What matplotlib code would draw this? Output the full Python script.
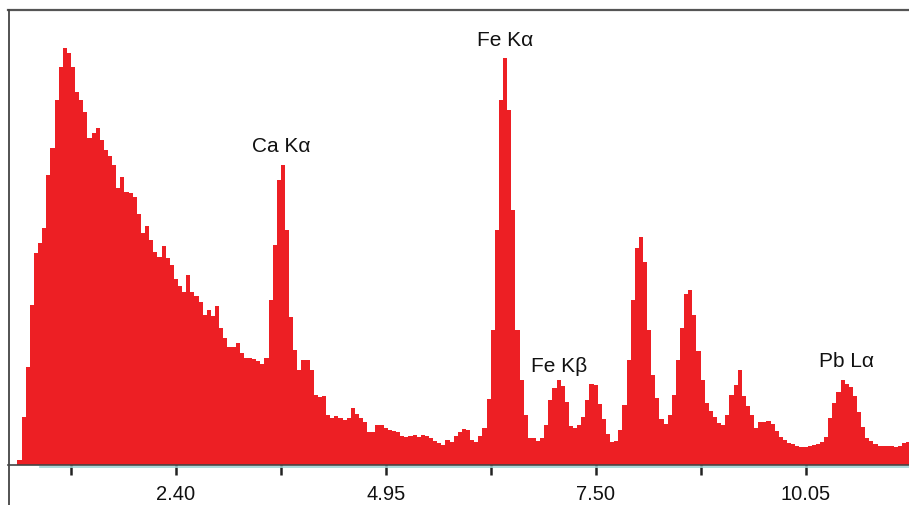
import numpy as np
import matplotlib
matplotlib.use("Agg")
import matplotlib.pyplot as plt
from matplotlib.lines import Line2D

# --- data -------------------------------------------------------------
energy_start = 0.375      # keV, left edge of first bin
bin_width = 0.05          # keV
counts = [
    0, 0, 4, 47, 97, 159, 211, 221, 236, 289,
    316, 364, 397, 416, 411, 397, 372, 364, 352, 326,
    331, 336, 324, 314, 308, 299, 276, 287, 272, 271,
    267, 250, 231, 238, 224, 212, 207, 218, 206, 199,
    185, 178, 172, 189, 172, 168, 162, 149, 154, 148,
    158, 136, 126, 117, 117, 121, 111, 106, 106, 105,
    103, 100, 106, 164, 219, 284, 299, 234, 147, 114,
    94, 104, 104, 94, 69, 67, 68, 49, 46, 48,
    46, 44, 46, 56, 50, 46, 42, 32, 32, 39,
    39, 36, 34, 33, 32, 28, 27, 28, 29, 27,
    29, 28, 26, 23, 21, 19, 24, 22, 28, 32,
    35, 34, 24, 22, 28, 36, 65, 134, 234, 364,
    406, 354, 254, 134, 84, 49, 26, 26, 23, 26,
    39, 64, 76, 84, 78, 62, 38, 36, 39, 47,
    64, 80, 79, 60, 45, 30, 22, 23, 34, 59,
    104, 164, 216, 227, 202, 134, 89, 66, 45, 40,
    49, 69, 104, 136, 170, 174, 149, 113, 84, 61,
    53, 47, 41, 39, 49, 69, 79, 94, 68, 58,
    49, 36, 42, 42, 43, 40, 33, 27, 24, 21,
    20, 18, 17, 17, 18, 19, 20, 22, 27, 46,
    61, 72, 84, 80, 77, 68, 52, 37, 26, 23,
    20, 18, 18, 18, 18, 17, 18, 21, 22, 22,
]
tick_values = [1.125, 2.40, 3.675, 4.95, 6.225, 7.50, 8.775, 10.05]
tick_labels = ["", "2.40", "", "4.95", "", "7.50", "", "10.05"]
peak_labels = ["Ca K\u03b1", "Fe K\u03b1", "Fe K\u03b2", "Pb L\u03b1"]
peak_energies = [3.68, 6.40, 7.06, 10.55]
peak_label_heights = [318, 424, 98, 103]

# --- figure -----------------------------------------------------------
W, H = 909, 505
fig = plt.figure(figsize=(W / 100, H / 100), dpi=100)
plt.rcParams['font.family'] = ['Liberation Sans', 'DejaVu Sans']

ax_left, ax_right, ax_top, ax_bottom = 8.5, 909, 10, 464.5
ax = fig.add_axes([ax_left / W, (H - ax_bottom) / H,
                   (ax_right - ax_left) / W, (ax_bottom - ax_top) / H])

edges = energy_start + bin_width * np.arange(len(counts) + 1)
ax.fill_between(edges, np.append(counts, counts[-1]), step="post",
                color="#ED1F24", linewidth=0)

ax.set_xlim(0.366, 11.307)
ax.set_ylim(0, 454)

ax.set_xticks(tick_values)
ax.set_xticklabels(tick_labels, fontsize=14.5, color="#111111")
ax.tick_params(axis="x", direction="out", length=7, width=1.8,
               color="#222222", pad=8)
ax.set_yticks([])

ax.spines["right"].set_visible(False)
ax.spines["left"].set_visible(False)
ax.spines["top"].set_color("#555555")
ax.spines["top"].set_linewidth(1.6)
ax.spines["bottom"].set_color("#444444")
ax.spines["bottom"].set_linewidth(1.2)

for lab, e, hgt in zip(peak_labels, peak_energies, peak_label_heights):
    ax.text(e, hgt, lab, ha="center", va="center", fontsize=15,
            color="#111111")

# left frame line running down to the bottom of the picture
fig.add_artist(Line2D([8.5 / W, 8.5 / W], [0, 1 - 10 / H],
                      transform=fig.transFigure, color="#444444", lw=1.3))
# light cyan line under the axis
fig.add_artist(Line2D([40 / W, 1.0], [1 - 466.5 / H, 1 - 466.5 / H],
                      transform=fig.transFigure, color="#9ED3D6", lw=1.2))

fig.savefig("out.png", dpi=100)
